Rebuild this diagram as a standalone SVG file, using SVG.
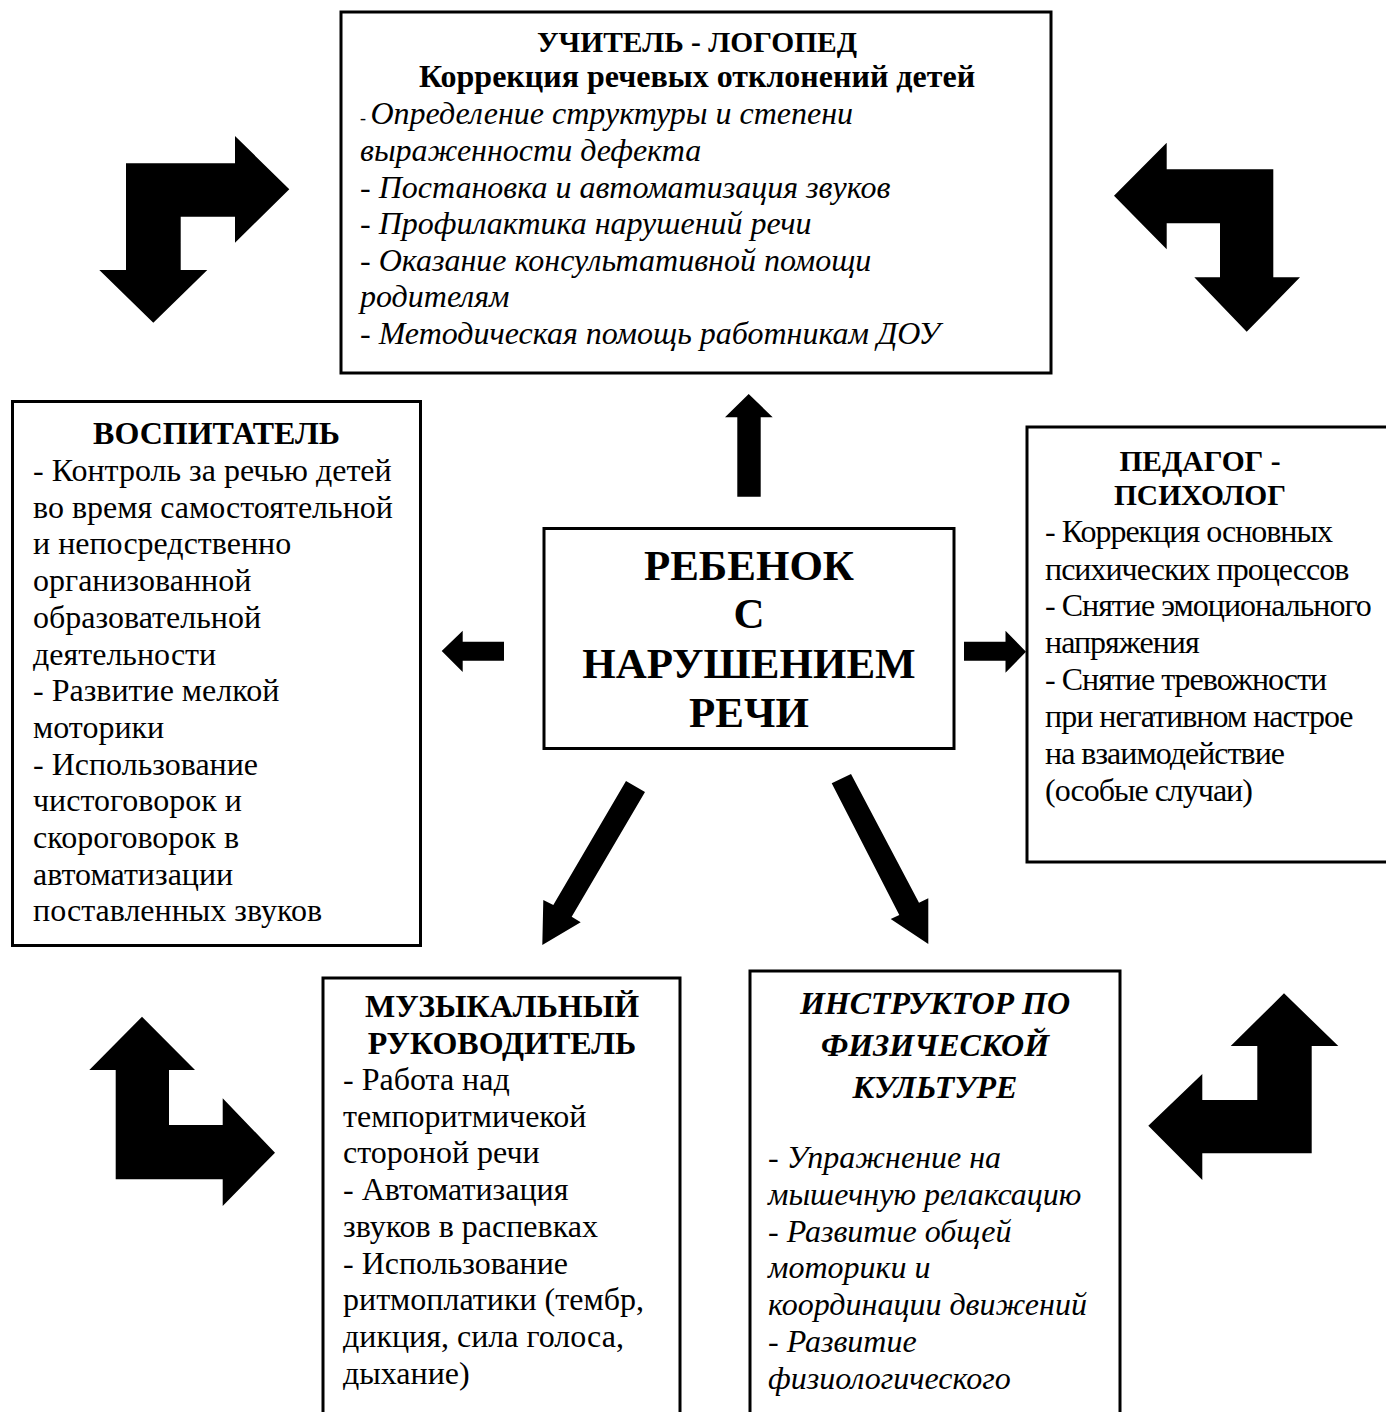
<svg xmlns="http://www.w3.org/2000/svg" width="1386" height="1412" viewBox="0 0 1386 1412">
<style>
.box{fill:#fff;stroke:#000;stroke-width:3}
.t{font-family:"Liberation Serif","Times New Roman",serif;font-size:32px;fill:#000}
.s{font-size:29.5px}
.big{font-size:43px}
.n{letter-spacing:-1px}
.b{font-weight:bold}
.i{font-style:italic}
.c{text-anchor:middle}
.arr{fill:#000}
</style>
<rect width="1386" height="1412" fill="#fff"/>
<g id="connectors">
<polygon class="arr" points="126,163.3 235,163.3 235,136 289.3,189.3 235,242.7 235,216.7 180.7,216.7 180.7,270 207.3,270 153.3,322.7 99.3,270 126,270"/>
<polygon class="arr" points="1114,195.7 1166.7,142.7 1166.7,169.3 1273.3,169.3 1273.3,277.3 1300,277.3 1246.7,331.7 1194.3,277.3 1220,277.3 1220,223.3 1166.7,223.3 1166.7,249.3"/>
<polygon class="arr" points="142,1016.7 195,1070 169,1070 169,1125 222.7,1125 222.7,1098.3 275,1152.7 222.7,1206 222.7,1179.3 115.7,1179.3 115.7,1070 89.3,1070"/>
<polygon class="arr" points="1284,993.3 1338.3,1046 1311.7,1046 1311.7,1153.3 1202.3,1153.3 1202.3,1180 1148.3,1125.7 1202.3,1074 1202.3,1100 1257.3,1100 1257.3,1046 1230.7,1046"/>
<polygon class="arr" points="748.7,394 772.7,417.3 760.7,417.3 760.7,496.7 737.3,496.7 737.3,417.3 725,417.3"/>
<polygon class="arr" points="441.7,651 462.7,630.7 462.7,641.7 504,641.7 504,660.7 462.7,660.7 462.7,672"/>
<polygon class="arr" points="1026,651.7 1005.5,630.7 1005.5,641.7 964,641.7 964,660.7 1005.5,660.7 1005.5,672.7"/>
<polygon class="arr" points="626,781 645,792 571.7,916.7 580.7,922.3 542.3,945 543.3,900 553.3,905"/>
<polygon class="arr" points="831.7,783.3 851,774 919,902.7 928.3,898.3 928.3,944 890.7,919 899.3,915"/>
</g>
<g id="node-logoped">
<rect class="box" x="341" y="12" width="710" height="361"/>
<text class="t s b c" x="697" y="52">УЧИТЕЛЬ - ЛОГОПЕД</text>
<text class="t b c" x="697" y="87">Коррекция речевых отклонений детей</text>
<text class="t i" x="360" y="124"><tspan font-size="18">- </tspan>Определение структуры и степени</text>
<text class="t i" x="360" y="161">выраженности дефекта</text>
<text class="t i" x="360" y="198">- Постановка и автоматизация звуков</text>
<text class="t i" x="360" y="234">- Профилактика нарушений речи</text>
<text class="t i" x="360" y="271">- Оказание консультативной помощи</text>
<text class="t i" x="360" y="307">родителям</text>
<text class="t i" x="360" y="344">- Методическая помощь работникам ДОУ</text>
</g>
<g id="node-vospitatel">
<rect class="box" x="12.5" y="401.5" width="408" height="544"/>
<text class="t b c" x="216.5" y="444">ВОСПИТАТЕЛЬ</text>
<text class="t" x="33" y="481">- Контроль за речью детей</text>
<text class="t" x="33" y="517.7">во время самостоятельной</text>
<text class="t" x="33" y="554.4">и непосредственно</text>
<text class="t" x="33" y="591.1">организованной</text>
<text class="t" x="33" y="627.8">образовательной</text>
<text class="t" x="33" y="664.5">деятельности</text>
<text class="t" x="33" y="701.2">- Развитие мелкой</text>
<text class="t" x="33" y="737.9">моторики</text>
<text class="t" x="33" y="774.6">- Использование</text>
<text class="t" x="33" y="811.3">чистоговорок и</text>
<text class="t" x="33" y="848">скороговорок в</text>
<text class="t" x="33" y="884.7">автоматизации</text>
<text class="t" x="33" y="921.4">поставленных звуков</text>
</g>
<g id="node-child">
<rect class="box" x="544" y="528.5" width="410" height="220"/>
<text class="t big b c" x="749" y="580">РЕБЕНОК</text>
<text class="t big b c" x="749" y="628">С</text>
<text class="t big b c" x="749" y="678">НАРУШЕНИЕМ</text>
<text class="t big b c" x="749" y="727">РЕЧИ</text>
</g>
<g id="node-psiholog">
<rect class="box" x="1027" y="427" width="370" height="435"/>
<text class="t s b c" x="1200" y="471">ПЕДАГОГ -</text>
<text class="t s b c" x="1200" y="505">ПСИХОЛОГ</text>
<text class="t n" x="1045" y="542">- Коррекция основных</text>
<text class="t n" x="1045" y="580">психических процессов</text>
<text class="t n" x="1045" y="616">- Снятие эмоционального</text>
<text class="t n" x="1045" y="653">напряжения</text>
<text class="t n" x="1045" y="690">- Снятие тревожности</text>
<text class="t n" x="1045" y="727">при негативном настрое</text>
<text class="t n" x="1045" y="764">на взаимодействие</text>
<text class="t n" x="1045" y="801">(особые случаи)</text>
</g>
<g id="node-music">
<rect class="box" x="323" y="978" width="357" height="450"/>
<text class="t b c" x="502" y="1017">МУЗЫКАЛЬНЫЙ</text>
<text class="t b c" x="502" y="1054">РУКОВОДИТЕЛЬ</text>
<text class="t" x="343" y="1090">- Работа над</text>
<text class="t" x="343" y="1127">темпоритмичекой</text>
<text class="t" x="343" y="1163">стороной речи</text>
<text class="t" x="343" y="1200">- Автоматизация</text>
<text class="t" x="343" y="1237">звуков в распевках</text>
<text class="t" x="343" y="1274">- Использование</text>
<text class="t" x="343" y="1310">ритмоплатики (тембр,</text>
<text class="t" x="343" y="1347">дикция, сила голоса,</text>
<text class="t" x="343" y="1384">дыхание)</text>
</g>
<g id="node-fizra">
<rect class="box" x="750" y="971" width="370" height="460"/>
<text class="t b i c" x="935" y="1014">ИНСТРУКТОР ПО</text>
<text class="t b i c" x="935" y="1056">ФИЗИЧЕСКОЙ</text>
<text class="t b i c" x="935" y="1098">КУЛЬТУРЕ</text>
<text class="t i" x="768" y="1168">- Упражнение на</text>
<text class="t i" x="768" y="1205">мышечную релаксацию</text>
<text class="t i" x="768" y="1242">- Развитие общей</text>
<text class="t i" x="768" y="1278">моторики и</text>
<text class="t i" x="768" y="1315">координации движений</text>
<text class="t i" x="768" y="1352">- Развитие</text>
<text class="t i" x="768" y="1389">физиологического</text>
</g>
</svg>
